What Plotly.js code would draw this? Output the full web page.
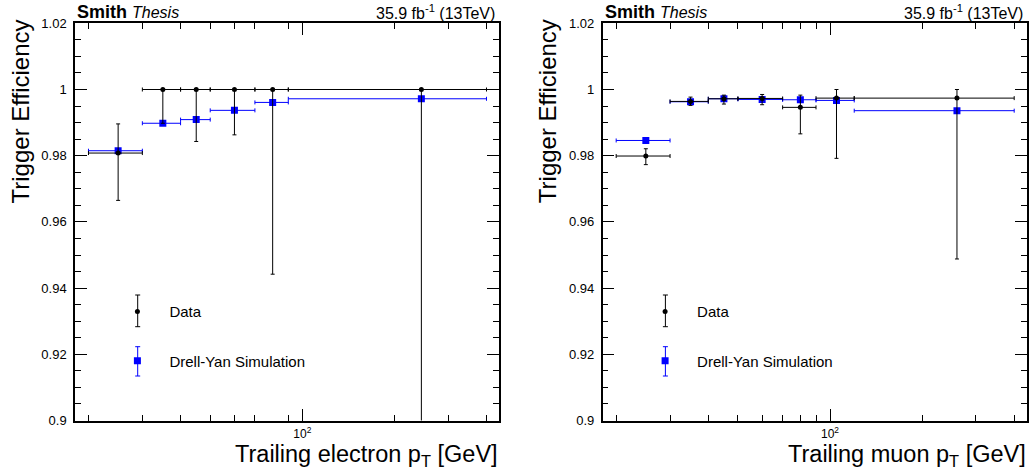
<!DOCTYPE html>
<html><head><meta charset="utf-8">
<script src="https://cdn.plot.ly/plotly-3.0.1.min.js"></script>
<style>html,body{margin:0;padding:0;background:#fff}#chart{width:1033px;height:474px}</style>
</head><body><div id="chart"></div>
<script>
// ---------------- data ----------------
const elecBinLo = [20, 30, 40, 50, 70, 90];
const elecBinHi = [30, 40, 50, 70, 90, 400];
const elecPt = [25, 35, 45, 60, 80, 245];
const elecDataEff = [0.9808, 1.0, 1.0, 1.0, 1.0, 1.0];
const elecDataErrUp = [0.0088, 0, 0, 0, 0, 0];
const elecDataErrDown = [0.0143, 0.0102, 0.0157, 0.0137, 0.0558, 0.5];
const elecMCEff = [0.9815, 0.9898, 0.9909, 0.9937, 0.9961, 0.9972];
const elecMCErr = [0.0004, 0.0003, 0.0003, 0.0003, 0.0003, 0.0003];

const muonBinLo = [20, 30, 40, 50, 70, 90, 120];
const muonBinHi = [30, 40, 50, 70, 90, 120, 400];
const muonPt = [25, 35, 45, 60, 80, 105, 260];
const muonDataEff = [0.9799, 0.9964, 0.9972, 0.9973, 0.9946, 0.9974, 0.9974];
const muonDataErrUp = [0.0022, 0.0013, 0.0011, 0.0012, 0.0037, 0.0026, 0.0026];
const muonDataErrDown = [0.0026, 0.0012, 0.0016, 0.0019, 0.0080, 0.0182, 0.0486];
const muonMCEff = [0.9846, 0.9963, 0.9972, 0.9970, 0.9969, 0.9967, 0.9936];
const muonMCErr = [0.0003, 0.0003, 0.0003, 0.0003, 0.0003, 0.0003, 0.0004];

const yTickVals = [0.9, 0.92, 0.94, 0.96, 0.98, 1.0, 1.02];
const yTickText = ['0.9', '0.92', '0.94', '0.96', '0.98', '1', '1.02'];
const xTickVals = [100];
const xTickText = ['10<sup>2</sup>'];
const elecMinorX = [20, 30, 40, 50, 60, 70, 90, 200, 300, 400];
const muonMinorX = [20, 30, 40, 50, 60, 70, 80, 90, 200, 300, 400];

const headerLeft = '<b>Smith</b> <i><span style="font-size:16px">Thesis</span></i>';
const headerRight = '35.9 fb<sup>-1</sup> (13TeV)';
const yTitle = 'Trigger Efficiency';
const elecXTitle = 'Trailing electron p<sub>T</sub> [GeV]';
const muonXTitle = 'Trailing muon p<sub>T</sub> [GeV]';
const dataName = 'Data';
const mcName = 'Drell-Yan Simulation';

// ---------------- layout helpers ----------------
const W = 1033, H = 474;
const px = v => v / W;
const py = v => 1 - v / H;
const FONT = '"Liberation Sans", Arial, Helvetica, sans-serif';
const plotL = [75, 602.7], plotR = [499, 1026.7];
const plotT = 23.3, plotB = 420.5;

function errX(pt, lo, hi) {
  return {type: 'data', symmetric: false,
    array: pt.map((p, i) => hi[i] - p), arrayminus: pt.map((p, i) => p - lo[i])};
}

function series(pt, lo, hi, eff, up, down, color, symbol, size, name, xa, ya, legend) {
  return {
    type: 'scatter', mode: 'markers', x: pt, y: eff, name: name,
    xaxis: xa, yaxis: ya, legend: legend, showlegend: true, cliponaxis: true,
    marker: {color: color, symbol: symbol, size: size, line: {width: 0}},
    error_x: Object.assign(errX(pt, lo, hi), {color: color, thickness: 1, width: 2}),
    error_y: {type: 'data', symmetric: false, array: up, arrayminus: down, color: color, thickness: 1, width: 2},
    hoverinfo: 'x+y'
  };
}

const traces = [
  series(elecPt, elecBinLo, elecBinHi, elecMCEff, elecMCErr, elecMCErr, '#0000ff', 'square', 7, mcName, 'x', 'y', 'legend2'),
  series(elecPt, elecBinLo, elecBinHi, elecDataEff, elecDataErrUp, elecDataErrDown, '#000000', 'circle', 5, dataName, 'x', 'y', 'legend'),
  series(muonPt, muonBinLo, muonBinHi, muonMCEff, muonMCErr, muonMCErr, '#0000ff', 'square', 7, mcName, 'x2', 'y2', 'legend4'),
  series(muonPt, muonBinLo, muonBinHi, muonDataEff, muonDataErrUp, muonDataErrDown, '#000000', 'circle', 5, dataName, 'x2', 'y2', 'legend3')
];

function xAxis(i, minor) {
  return {
    type: 'log', domain: [px(plotL[i]), px(plotR[i])], range: [Math.log10(18.07), Math.log10(439.5)],
    anchor: i ? 'y2' : 'y', showgrid: false, zeroline: false,
    showline: true, linecolor: '#000', linewidth: 1.5, mirror: 'allticks',
    ticks: 'inside', ticklen: 12, tickwidth: 1, tickcolor: '#000',
    tickmode: 'array', tickvals: xTickVals, ticktext: xTickText,
    tickfont: {family: FONT, size: 12, color: '#000'}, ticklabelstandoff: 1,
    minor: {tickmode: 'array', tickvals: minor, ticks: 'inside', ticklen: 6, tickwidth: 1, tickcolor: '#000', showgrid: false}
  };
}
function yAxis(i) {
  return {
    domain: [py(plotB), py(plotT)], range: [0.9, 1.02], anchor: i ? 'x2' : 'x',
    showgrid: false, zeroline: false,
    showline: true, linecolor: '#000', linewidth: 1.5, mirror: 'allticks',
    ticks: 'inside', ticklen: 12, tickwidth: 1, tickcolor: '#000',
    tickmode: 'array', tickvals: yTickVals, ticktext: yTickText,
    tickfont: {family: FONT, size: 13, color: '#000'}, ticklabelstandoff: 4,
    minor: {dtick: 0.005, ticks: 'inside', ticklen: 6, tickwidth: 1, tickcolor: '#000', showgrid: false}
  };
}

function legendAt(xPx, yPx) {
  return {x: px(xPx), y: py(yPx), xanchor: 'left', yanchor: 'middle', bgcolor: 'rgba(0,0,0,0)',
    borderwidth: 0, itemwidth: 54, font: {family: FONT, size: 15, color: '#000'}, itemclick: false, itemdoubleclick: false};
}

const annotations = [], shapes = [];
[0, 1].forEach(i => {
  const L = plotL[i], R = plotR[i], dx = L - plotL[0];
  annotations.push(
    {text: headerLeft, x: px(L), y: py(24.5), xref: 'paper', yref: 'paper', xanchor: 'left', yanchor: 'bottom',
      showarrow: false, font: {family: FONT, size: 18, color: '#000'}},
    {text: headerRight, x: px(R - 2), y: py(24.5), xref: 'paper', yref: 'paper', xanchor: 'right', yanchor: 'bottom',
      showarrow: false, font: {family: FONT, size: 16, color: '#000'}},
    {text: yTitle, x: px(20 + dx), y: py(111.5), xref: 'paper', yref: 'paper', xanchor: 'center', yanchor: 'middle',
      textangle: -90, showarrow: false, font: {family: FONT, size: 24, color: '#000'}},
    {text: i ? muonXTitle : elecXTitle, x: px(R + 1), y: py(438.5), xref: 'paper', yref: 'paper', xanchor: 'right', yanchor: 'top',
      showarrow: false, font: {family: FONT, size: 23.5, color: '#000'}}
  );
  // legend error-bar glyphs
  [[295, 326.7, '#000'], [346.7, 376, '#0000ff']].forEach(([t, b, c]) => {
    const cx = 137.7 + dx;
    shapes.push(
      {type: 'line', xref: 'paper', yref: 'paper', x0: px(cx), x1: px(cx), y0: py(t), y1: py(b), line: {color: c, width: 1}},
      {type: 'line', xref: 'paper', yref: 'paper', x0: px(cx - 2.5), x1: px(cx + 2.5), y0: py(t), y1: py(t), line: {color: c, width: 1}},
      {type: 'line', xref: 'paper', yref: 'paper', x0: px(cx - 2.5), x1: px(cx + 2.5), y0: py(b), y1: py(b), line: {color: c, width: 1}}
    );
  });
});

const layout = {
  width: W, height: H, margin: {l: 0, r: 0, t: 0, b: 0},
  paper_bgcolor: '#fff', plot_bgcolor: '#fff',
  font: {family: FONT, color: '#000'},
  xaxis: xAxis(0, elecMinorX), yaxis: yAxis(0),
  xaxis2: xAxis(1, muonMinorX), yaxis2: yAxis(1),
  legend: legendAt(105.4, 311.7),
  legend2: legendAt(105.4, 361),
  legend3: legendAt(105.4 + (plotL[1] - plotL[0]), 311.7),
  legend4: legendAt(105.4 + (plotL[1] - plotL[0]), 361),
  annotations: annotations, shapes: shapes,
  hovermode: 'closest'
};

Plotly.newPlot('chart', traces, layout, {displayModeBar: false, staticPlot: false});
</script></body></html>
